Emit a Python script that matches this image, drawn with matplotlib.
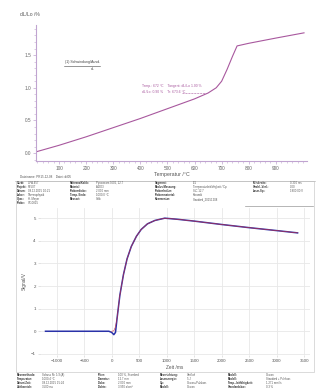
import matplotlib
matplotlib.use("Agg")
import matplotlib.pyplot as plt
from matplotlib.patches import Rectangle
from matplotlib.lines import Line2D

plt.rcParams['font.family'] = ['Liberation Sans', 'DejaVu Sans']

# Dilatometer curve: temperature (°C) vs. relative length change (%)
temp_c = [15, 100, 200, 300, 400, 500, 600, 650, 680, 700, 720, 740, 757, 800, 900, 1004]
dl_pct = [0.02, 0.12, 0.25, 0.39, 0.53, 0.68, 0.83, 0.92, 1.00, 1.10, 1.28, 1.48, 1.64, 1.68, 1.76, 1.84]
temp_ticks = [100, 200, 300, 400, 500, 600, 700, 800, 900]
dl_ticks = [0.0, 0.5, 1.0, 1.5]

# Detector signal of a laser shot: time (ms) vs. signal (V)
time_ms = [-1200, -1000, -500, -50, 0, 40, 70, 100, 150, 214, 280, 357, 450, 536,
           650, 786, 964, 1200, 1500, 2000, 2500, 3000, 3375]
signal_v = [0.0, 0.0, 0.0, 0.0, -0.05, -0.15, -0.05, 0.6, 1.6, 2.5, 3.2, 3.75, 4.2, 4.5,
            4.75, 4.9, 5.0, 4.95, 4.87, 4.72, 4.58, 4.45, 4.35]
fit_time = [0, 40, 70, 100, 150, 214, 280, 357, 450, 536, 650, 786, 964, 1200, 1500,
            2000, 2500, 3000, 3375]
fit_signal = [0.0, 0.02, 0.2, 0.6, 1.6, 2.5, 3.2, 3.75, 4.2, 4.5, 4.75, 4.9, 5.0, 4.95,
              4.87, 4.72, 4.58, 4.45, 4.35]
time_ticks = [-1000, -500, 0, 500, 1000, 1500, 2000, 2500, 3000, 3500]
signal_ticks = [-1, 0, 1, 2, 3, 4, 5]

W, H = 324, 388
fig = plt.figure(figsize=(W / 100, H / 100), dpi=100)
fig.patch.set_facecolor('white')


def fx(x):
    return x / W


def fy(y):
    return 1 - y / H


# ---------------- upper plot ----------------
axis_col = '#c0a4d0'
curve_col = '#a8589e'
ax1 = fig.add_axes([fx(36), fy(161), (307 - 36) / W, (161 - 25) / H])
ax1.plot(temp_c, dl_pct, color=curve_col, lw=0.8)
ax1.set_xlim(15, 1015)
ax1.set_ylim(-0.12, 1.96)
ax1.set_xticks(temp_ticks)
ax1.set_yticks(dl_ticks)
ax1.set_yticklabels([f'{v:.1f}' for v in dl_ticks])
ax1.set_xticks(range(20, 1020, 20), minor=True)
ax1.set_yticks([i * 0.1 for i in range(-1, 20)], minor=True)
for s in ['top', 'right']:
    ax1.spines[s].set_visible(False)
for s in ['left', 'bottom']:
    ax1.spines[s].set_color(axis_col)
    ax1.spines[s].set_linewidth(0.8)
ax1.tick_params(axis='both', which='major', labelsize=3.4, colors=axis_col,
                labelcolor='#666666', length=2, width=0.5, pad=1.5)
ax1.tick_params(axis='both', which='minor', colors=axis_col, length=1.2, width=0.4)
ax1.set_xlabel('Temperatur /°C', fontsize=3.8, color='#555555', labelpad=0.5)
fig.text(fx(20), fy(14), 'dL/Lo /%', fontsize=3.6, color='#555555', va='center')

# segment annotation
fig.text(fx(65), fy(62), '(1) Schwindung/Ausd.', fontsize=2.6, color='#444444', va='center')
fig.add_artist(Line2D([fx(64), fx(100)], [fy(65.5), fy(65.5)], color='#444444', lw=0.4))
fig.text(fx(91), fy(68.5), 'dL', fontsize=2.4, color='#444444', va='center')

# tangent annotation near the transition
ax1.text(405, 1.02, 'Temp.: 672 °C    Tangent: dL/Lo 1.00 %', fontsize=2.4, color=curve_col,
         va='center')
ax1.text(405, 0.94, 'dL/Lo: 0.90 %    Tr: 673.6 °C', fontsize=2.4, color=curve_col, va='center')
ax1.plot([555, 640], [0.92, 0.92], color=curve_col, lw=0.4, ls='--')

# ---------------- file line ----------------
fig.text(fx(20), fy(177), 'Dateiname: PR15-12-08    Datei: dil05', fontsize=2.2,
         color='#555555', va='center')
fig.add_artist(Line2D([fx(15), fx(315)], [fy(181), fy(181)], color='#bbbbbb', lw=0.5))

# frame around the lower section
fig.add_artist(Rectangle((fx(16), fy(372)), (314 - 16) / W, (372 - 181) / H,
                         transform=fig.transFigure, fill=False, ec='#cccccc', lw=0.5))

# ---------------- header table ----------------
head_cols = [
    (17, 28, ['Gerät:', 'Projekt:', 'Datum:', 'Labor:', 'Oper.:', 'Probe:'],
     ['LFA 457', 'P1507', '08.12.2015 10:21', 'Thermophysik', 'H. Meyer', 'SX-0815']),
    (70, 96, ['Referenz/Kalib:', 'Material:', 'Probendicke:', 'Temp. Ende:', 'Messort:', ''],
     ['Pyroceram 9606, 12.7', 'Al2O3', '2.000 mm', '1000.0 °C', 'Selb', '']),
    (155, 193, ['Segment:', 'Modus/Messung:', 'Probenhalter:', 'Probenmaterial:', 'Kommentar:', ''],
     ['1/1', 'Temperaturleitfähigkeit / Cp', 'SiC 12.7', 'Keramik', 'Standard_20151208', '']),
    (253, 290, ['Pulsbreite:', 'Strahl.-Verl.:', 'Laser-Sp.:', '', '', ''],
     ['0.300 ms', '0.00', '1800.00 V', '', '', '']),
]
row_y = [183, 187, 191, 195, 199, 203]
for lx, vx, labels, values in head_cols:
    for y, lab, val in zip(row_y, labels, values):
        fig.text(fx(lx), fy(y), lab, fontsize=2.0, color='#333333', weight='bold', va='center')
        fig.text(fx(vx), fy(y), val, fontsize=2.0, color='#555555', va='center')
fig.add_artist(Line2D([fx(245), fx(313)], [fy(206), fy(206)], color='#999999', lw=0.5))

# ---------------- lower plot ----------------
ax2 = fig.add_axes([fx(40), fy(355), (310 - 40) / W, (355 - 208) / H])
ax2.plot(time_ms, signal_v, color='#2a32a8', lw=1.1)
ax2.plot(fit_time, fit_signal, color='#d03040', lw=0.4)
ax2.set_xlim(-1300, 3600)
ax2.set_ylim(-1.05, 5.45)
ax2.set_xticks(time_ticks)
ax2.set_yticks(signal_ticks)
ax2.grid(True, color='#e8e8e8', lw=0.6)
ax2.set_axisbelow(True)
for s in ax2.spines.values():
    s.set_visible(False)
ax2.tick_params(axis='both', labelsize=3.2, colors='#cccccc', labelcolor='#555555',
                length=1.5, width=0.4, pad=1.5)
ax2.set_xlabel('Zeit /ms', fontsize=3.4, color='#555555', labelpad=1)
ax2.set_ylabel('Signal/V', fontsize=3.4, color='#555555', labelpad=3)

# ---------------- footer table ----------------
foot_cols = [
    (17, 42, ['Messmethode:', 'Temperatur:', 'Datum/Zeit:', 'Zeitbereich:'],
     ['Schuss Nr. 1/3 (A)', '1000.4 °C', '08.12.2015 15:24', '3500 ms']),
    (98, 118, ['Filter:', 'Diameter:', 'Dicke:', 'Dichte:'],
     ['100 %, Standard', '12.7 mm', '2.000 mm', '3.950 g/cm³']),
    (160, 187, ['Messrichtung:', 'Laserenergie:', 'Cp:', 'Modell:'],
     ['Vertikal', '5 J', 'Cowan+Pulskorr.', 'Cowan']),
    (228, 266, ['Modell:', 'Modell:', 'Temp.-leitfähigkeit:', 'Standardabw.:'],
     ['Cowan', 'Standard + Pulskorr.', '1.271 mm²/s', '0.3 %']),
]
foot_y = [375, 379, 383, 387]
for lx, vx, labels, values in foot_cols:
    for y, lab, val in zip(foot_y, labels, values):
        fig.text(fx(lx), fy(y), lab, fontsize=2.0, color='#333333', weight='bold', va='center')
        fig.text(fx(vx), fy(y), val, fontsize=2.0, color='#555555', va='center')

fig.savefig('out.png', dpi=100, facecolor='white')
